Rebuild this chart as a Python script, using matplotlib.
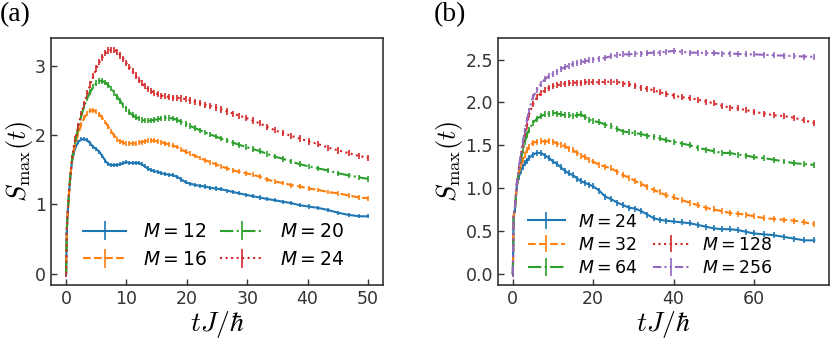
import matplotlib
matplotlib.use("Agg")
import matplotlib.pyplot as plt
from matplotlib.lines import Line2D

# ---- panel (a): M = 12, 16, 20, 24 ----
t_a = [0, 0.1, 0.25, 0.5, 0.75, 1, 1.25, 1.5, 2, 2.5, 3, 3.5, 4, 4.5, 5, 5.5, 6, 6.5, 7, 7.5,
       8, 8.5, 9, 9.5, 10, 10.5, 11, 11.5, 12, 12.5, 13, 13.5, 14, 14.6, 15.2, 15.8, 16.4, 17,
       17.7, 18.4, 19.1, 19.8, 20.6, 21.4, 22.2, 23, 23.9, 24.8, 25.7, 26.7, 27.7, 28.7, 29.8,
       30.9, 32.1, 33.3, 34.6, 35.9, 37.3, 38.7, 40.2, 41.8, 43.4, 45.1, 46.8, 48.6, 50]

s_m12 = [0, 0.6, 0.88, 1.18, 1.45, 1.63, 1.74, 1.81, 1.9, 1.94, 1.94, 1.93, 1.88, 1.83, 1.8, 1.76,
         1.7, 1.63, 1.58, 1.57, 1.57, 1.57, 1.58, 1.6, 1.61, 1.6, 1.6, 1.6, 1.6, 1.58, 1.55, 1.52,
         1.5, 1.48, 1.47, 1.45, 1.44, 1.43, 1.42, 1.40, 1.36, 1.32, 1.3, 1.28, 1.27, 1.26, 1.24,
         1.23, 1.22, 1.2, 1.18, 1.16, 1.14, 1.12, 1.1, 1.08, 1.06, 1.04, 1.02, 0.99, 0.97, 0.95,
         0.92, 0.88, 0.85, 0.83, 0.83]
s_m16 = [0, 0.6, 0.88, 1.18, 1.46, 1.65, 1.77, 1.86, 2.02, 2.15, 2.25, 2.31, 2.35, 2.36, 2.34, 2.3,
         2.25, 2.19, 2.12, 2.05, 1.99, 1.94, 1.91, 1.89, 1.88, 1.88, 1.88, 1.88, 1.89, 1.9, 1.91,
         1.92, 1.92, 1.92, 1.91, 1.9, 1.88, 1.87, 1.85, 1.83, 1.79, 1.76, 1.73, 1.7, 1.67, 1.64,
         1.61, 1.58, 1.55, 1.52, 1.49, 1.47, 1.45, 1.43, 1.4, 1.36, 1.33, 1.31, 1.28, 1.26, 1.23,
         1.21, 1.18, 1.16, 1.13, 1.1, 1.09]
s_m20 = [0, 0.6, 0.88, 1.19, 1.47, 1.66, 1.8, 1.91, 2.1, 2.27, 2.42, 2.53, 2.62, 2.7, 2.75, 2.78,
         2.78, 2.76, 2.72, 2.67, 2.61, 2.55, 2.49, 2.43, 2.38, 2.33, 2.29, 2.26, 2.24, 2.22, 2.21,
         2.21, 2.21, 2.22, 2.23, 2.24, 2.25, 2.25, 2.24, 2.22, 2.19, 2.16, 2.13, 2.1, 2.07, 2.04,
         2.01, 1.98, 1.95, 1.92, 1.89, 1.86, 1.83, 1.8, 1.77, 1.73, 1.69, 1.66, 1.62, 1.58, 1.55,
         1.52, 1.49, 1.45, 1.42, 1.39, 1.37]
s_m24 = [0, 0.6, 0.88, 1.19, 1.47, 1.67, 1.82, 1.94, 2.13, 2.3, 2.45, 2.6, 2.73, 2.85, 2.96, 3.05,
         3.12, 3.18, 3.22, 3.23, 3.23, 3.2, 3.15, 3.1, 3.04, 2.98, 2.92, 2.86, 2.8, 2.75, 2.71,
         2.67, 2.64, 2.61, 2.59, 2.57, 2.56, 2.55, 2.54, 2.54, 2.53, 2.52, 2.5, 2.48, 2.46, 2.44,
         2.42, 2.4, 2.37, 2.34, 2.31, 2.28, 2.25, 2.21, 2.17, 2.12, 2.07, 2.03, 1.99, 1.95, 1.91,
         1.87, 1.82, 1.78, 1.74, 1.7, 1.67]

series_a = [s_m12, s_m16, s_m20, s_m24]
labels_a = ["$M = 12$", "$M = 16$", "$M = 20$", "$M = 24$"]
err_a = [0.03, 0.035, 0.04, 0.045]

# ---- panel (b): M = 24, 32, 64, 128, 256 ----
t_b = [0, 0.2, 0.5, 1, 1.5, 2, 2.5, 3, 3.5, 4, 5, 6, 7, 8, 9, 10, 11, 12, 13, 14, 15, 16, 17, 18,
       19, 20, 21.5, 23, 24.5, 26, 27.5, 29, 30.5, 32, 33.5, 35, 36.5, 38, 40, 42, 44, 46, 48, 50,
       52, 54, 56, 58, 60, 62.5, 65, 67.5, 70, 72.5, 75]

s_b24 = [0, 0.68, 0.74, 1.02, 1.13, 1.2, 1.25, 1.29, 1.32, 1.35, 1.39, 1.41, 1.41, 1.38, 1.35,
         1.31, 1.28, 1.24, 1.2, 1.17, 1.15, 1.11, 1.08, 1.06, 1.04, 1.02, 0.97, 0.9, 0.87, 0.83,
         0.8, 0.77, 0.76, 0.73, 0.69, 0.65, 0.63, 0.62, 0.61, 0.6, 0.59, 0.57, 0.55, 0.53, 0.52,
         0.52, 0.51, 0.49, 0.47, 0.46, 0.45, 0.43, 0.41, 0.39, 0.39]
s_b32 = [0, 0.68, 0.75, 1.04, 1.17, 1.26, 1.33, 1.39, 1.44, 1.48, 1.53, 1.54, 1.55, 1.54, 1.55,
         1.54, 1.52, 1.5, 1.49, 1.46, 1.44, 1.41, 1.38, 1.36, 1.33, 1.31, 1.27, 1.25, 1.23, 1.19,
         1.15, 1.12, 1.08, 1.05, 1.01, 0.98, 0.95, 0.92, 0.89, 0.86, 0.83, 0.8, 0.77, 0.75, 0.73,
         0.71, 0.7, 0.69, 0.67, 0.65, 0.64, 0.63, 0.62, 0.6, 0.58]
s_b64 = [0, 0.68, 0.75, 1.05, 1.2, 1.33, 1.44, 1.54, 1.62, 1.68, 1.76, 1.81, 1.84, 1.86, 1.87,
         1.88, 1.87, 1.86, 1.85, 1.85, 1.84, 1.85, 1.86, 1.83, 1.8, 1.78, 1.77, 1.74, 1.72, 1.69,
         1.66, 1.65, 1.64, 1.63, 1.61, 1.6, 1.58, 1.56, 1.54, 1.52, 1.5, 1.47, 1.45, 1.43, 1.41,
         1.41, 1.39, 1.38, 1.36, 1.35, 1.33, 1.31, 1.29, 1.28, 1.27]
s_b128 = [0, 0.68, 0.76, 1.06, 1.22, 1.37, 1.5, 1.62, 1.73, 1.85, 1.98, 2.06, 2.11, 2.14, 2.17,
          2.19, 2.2, 2.21, 2.22, 2.225, 2.23, 2.23, 2.23, 2.235, 2.235, 2.235, 2.235, 2.24, 2.24,
          2.24, 2.22, 2.21, 2.19, 2.17, 2.16, 2.14, 2.12, 2.1, 2.08, 2.06, 2.05, 2.03, 2.01, 1.99,
          1.96, 1.94, 1.93, 1.91, 1.89, 1.87, 1.85, 1.84, 1.82, 1.79, 1.76]
s_b256 = [0, 0.68, 0.77, 1.07, 1.24, 1.4, 1.54, 1.67, 1.79, 1.9, 2.06, 2.15, 2.22, 2.27, 2.31,
          2.33, 2.36, 2.39, 2.41, 2.43, 2.45, 2.46, 2.47, 2.48, 2.49, 2.5, 2.51, 2.52, 2.54, 2.55,
          2.56, 2.56, 2.57, 2.57, 2.575, 2.58, 2.58, 2.59, 2.6, 2.59, 2.58, 2.58, 2.575, 2.575,
          2.57, 2.57, 2.565, 2.56, 2.56, 2.555, 2.55, 2.545, 2.54, 2.535, 2.53]

series_b = [s_b24, s_b32, s_b64, s_b128, s_b256]
labels_b = ["$M = 24$", "$M = 32$", "$M = 64$", "$M = 128$", "$M = 256$"]
err_b = [0.035, 0.035, 0.035, 0.035, 0.035]

colors = ["tab:blue", "tab:orange", "tab:green", "tab:red", "tab:purple"]
styles = ["-", "--", "-.", ":", (0, (4, 1.5, 1, 1.5, 1, 1.5))]

plt.rcParams["mathtext.fontset"] = "dejavusans"
ink = "0.2"


def style_axes(ax):
    ax.tick_params(direction="in", length=4, width=1.0, labelsize=12.5, colors=ink,
                   top=False, right=False)
    for sp in ax.spines.values():
        sp.set_color(ink)
        sp.set_linewidth(1.2)
    ax.set_xlabel(r"$tJ/\hbar$", fontsize=20, math_fontfamily="cm", labelpad=1)
    ax.set_ylabel(r"$S_{\max}(t)$", fontsize=19, math_fontfamily="cm", labelpad=0)


fig = plt.figure(figsize=(8.31, 3.4), dpi=100)
ax_a = fig.add_axes([0.0614, 0.162, 0.3995, 0.726])
ax_b = fig.add_axes([0.599, 0.162, 0.399, 0.726])

for y, lab, c, ls, e in zip(series_a, labels_a, colors, styles, err_a):
    ax_a.errorbar(t_a, y, yerr=e, color=c, ls=ls, lw=1.5, elinewidth=1.2, capsize=0, label=lab)
ax_a.set_xticks([0, 10, 20, 30, 40, 50])
ax_a.set_yticks([0, 1, 2, 3])
ax_a.set_ylim(-0.16, 3.40)
style_axes(ax_a)
ax_a.legend(loc="lower center", bbox_to_anchor=(0.49, 0.02), ncol=2, frameon=False,
            fontsize=13.5, handlelength=2.3, handletextpad=0.9, columnspacing=0.7,
            labelspacing=0.45, borderaxespad=0.2)

handles = []
for y, lab, c, ls, e in zip(series_b, labels_b, colors, styles, err_b):
    h = ax_b.errorbar(t_b, y, yerr=e, color=c, ls=ls, lw=1.5, elinewidth=1.2, capsize=0, label=lab)
    handles.append(h)
ax_b.set_xticks([0, 20, 40, 60])
ax_b.set_yticks([0.0, 0.5, 1.0, 1.5, 2.0, 2.5])
ax_b.set_ylim(-0.13, 2.75)
style_axes(ax_b)
blank = Line2D([], [], color="none")
leg_h = [handles[0], handles[1], handles[2], blank, handles[3], handles[4]]
leg_l = [labels_b[0], labels_b[1], labels_b[2], "", labels_b[3], labels_b[4]]
ax_b.legend(leg_h, leg_l, loc="lower left", bbox_to_anchor=(0.06, -0.01), ncol=2, frameon=False,
            fontsize=12.5, handlelength=2.1, handletextpad=0.75, columnspacing=0.9,
            labelspacing=0.3, borderaxespad=0.2)

fig.text(0.0, 0.995, "(a)", fontsize=20, family="Liberation Serif", va="top", ha="left")
fig.text(0.522, 0.995, "(b)", fontsize=20, family="Liberation Serif", va="top", ha="left")

fig.savefig("out.png", dpi=100)
